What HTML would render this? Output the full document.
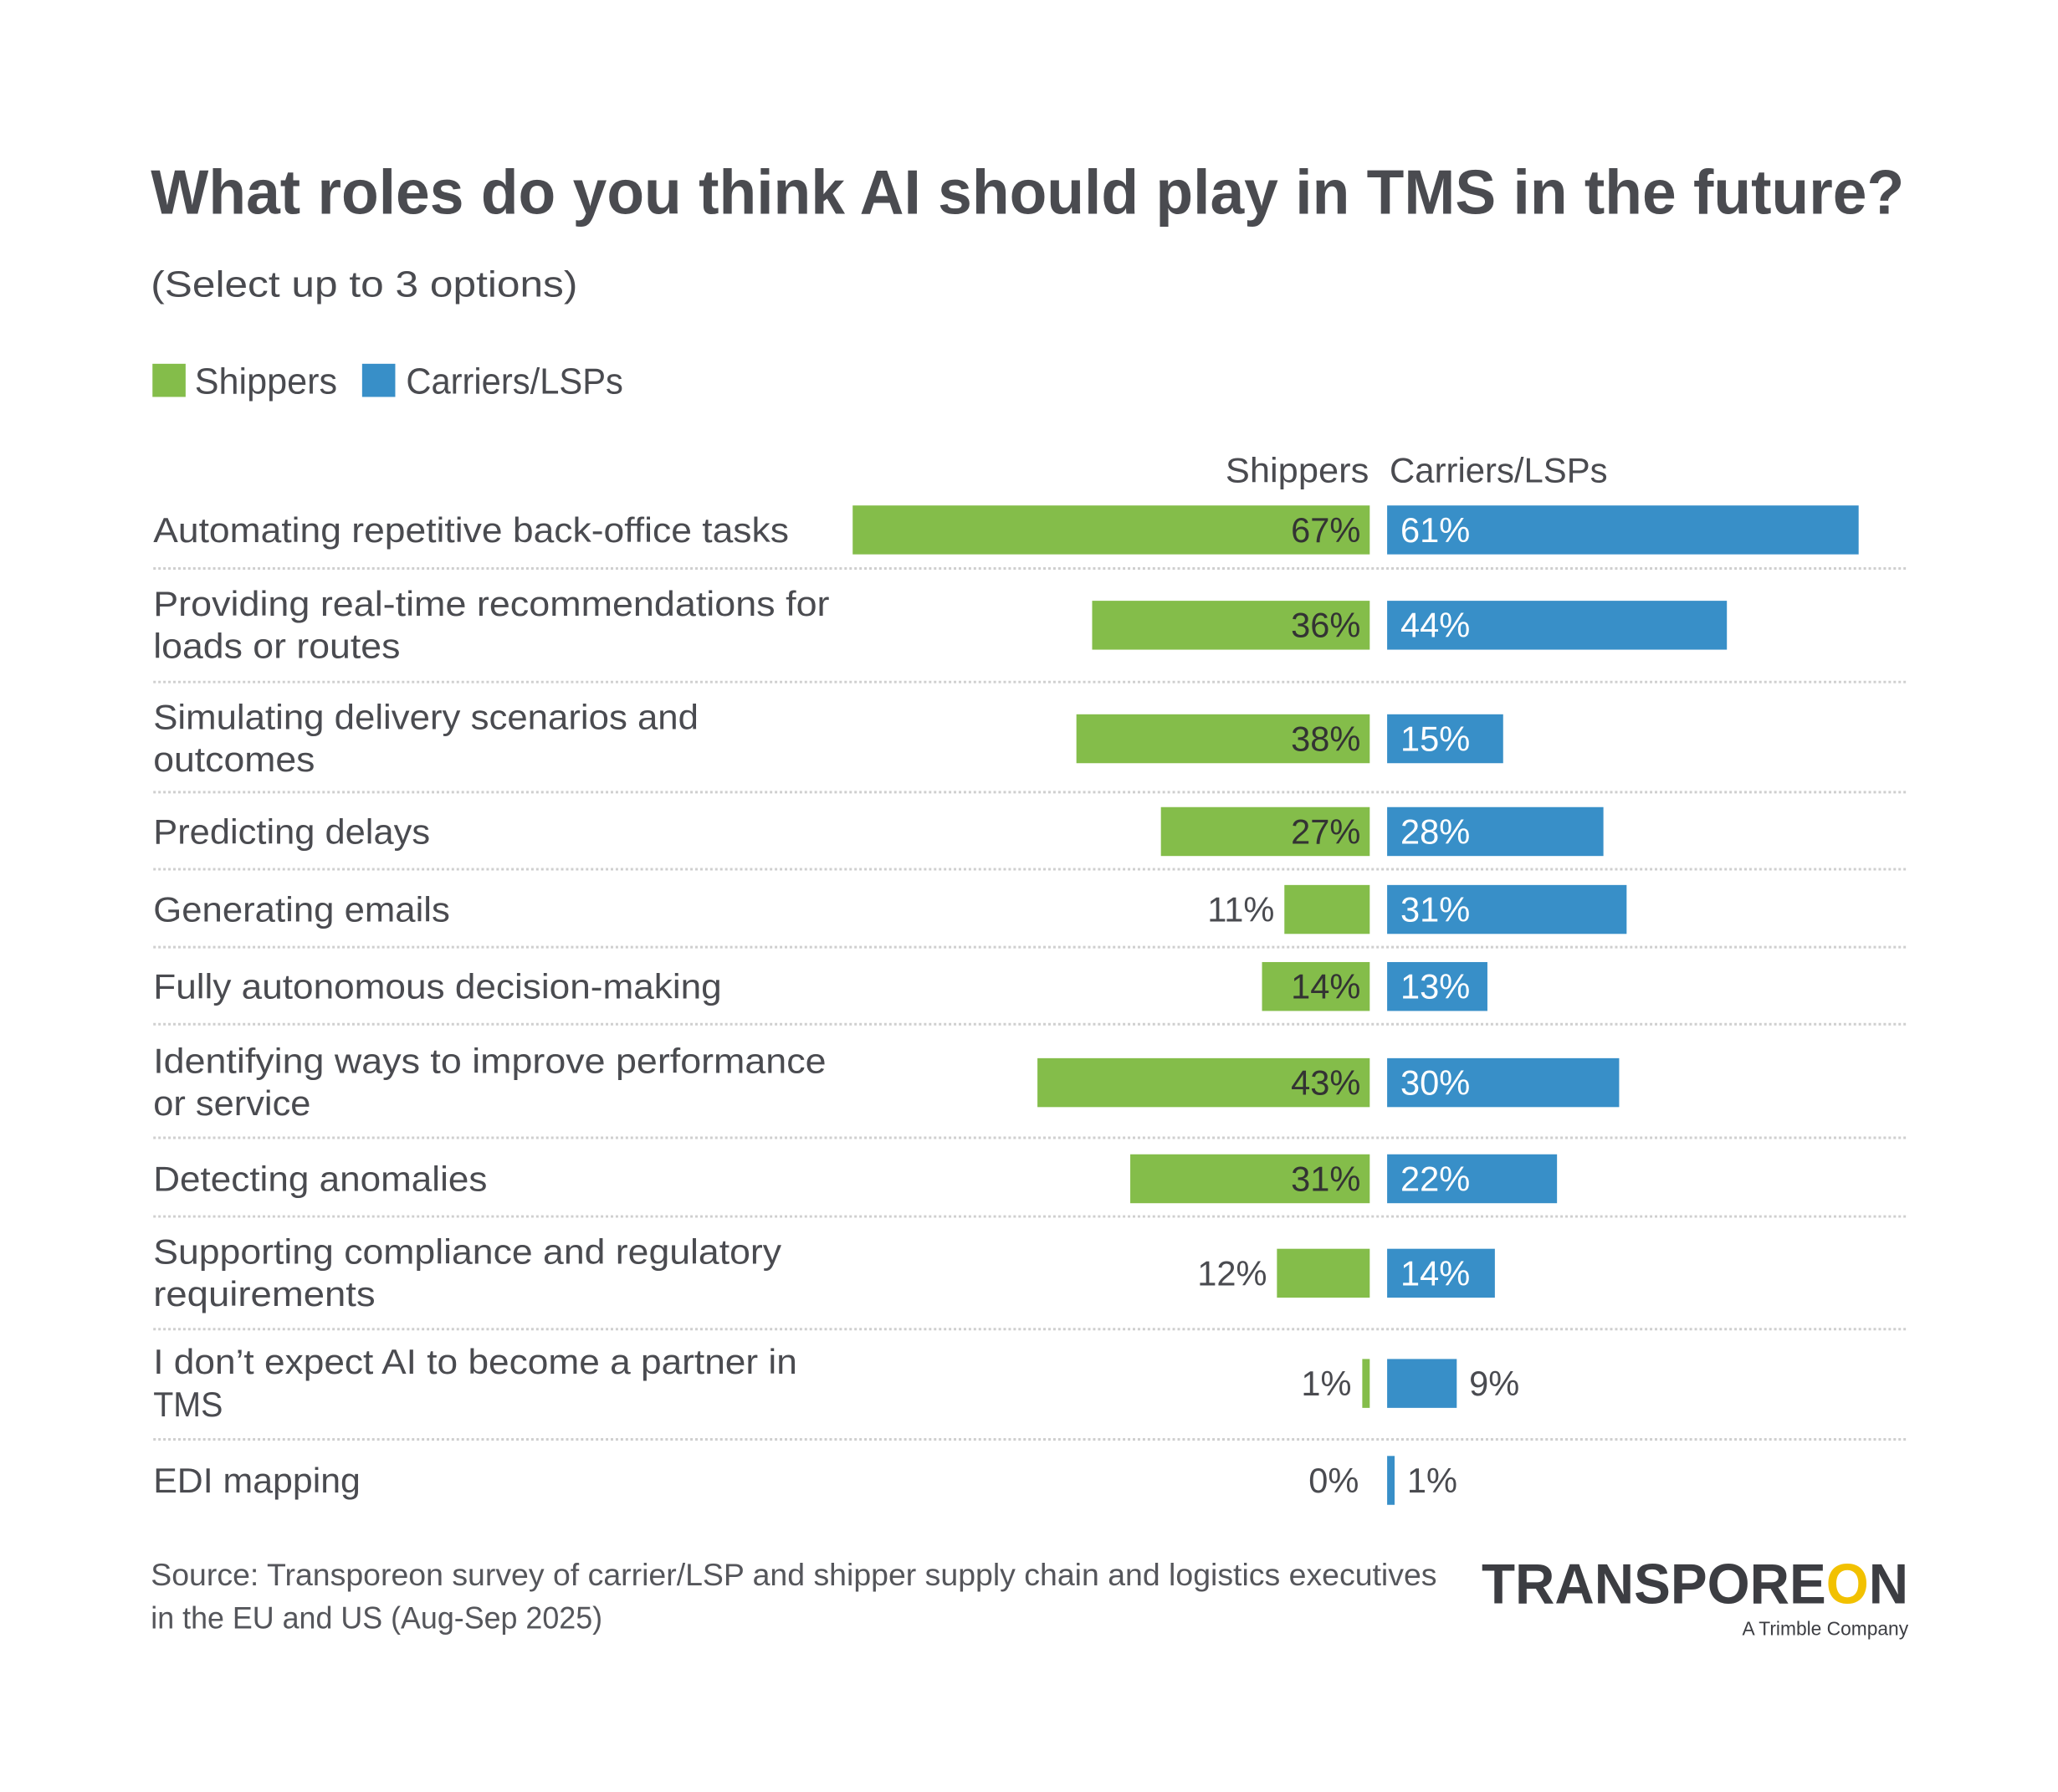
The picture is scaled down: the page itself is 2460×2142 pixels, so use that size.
<!DOCTYPE html>
<html><head><meta charset="utf-8"><style>html,body{margin:0;padding:0;background:#fff}svg{display:block}</style></head>
<body>
<svg width="2460" height="2142" viewBox="0 0 2460 2142" xmlns="http://www.w3.org/2000/svg" font-family="'Liberation Sans', sans-serif">
<rect width="2460" height="2142" fill="#fff"/>
<g transform="scale(0.9905)">
<text x="182" y="258" font-size="76" font-weight="bold" fill="#4a4b50" textLength="2116" lengthAdjust="spacingAndGlyphs">What roles do you think AI should play in TMS in the future?</text>
<text x="182" y="358" font-size="44" fill="#4a4b50" textLength="515" lengthAdjust="spacingAndGlyphs">(Select up to 3 options)</text>
<rect x="184" y="439" width="40" height="40" fill="#84bd4a"/>
<text x="235" y="475" font-size="44" fill="#4a4b50" textLength="172" lengthAdjust="spacingAndGlyphs">Shippers</text>
<rect x="437" y="439" width="40" height="40" fill="#388fc8"/>
<text x="490" y="475" font-size="44" fill="#4a4b50" textLength="262" lengthAdjust="spacingAndGlyphs">Carriers/LSPs</text>
<text x="1652" y="582" font-size="42" fill="#4a4b50" text-anchor="end" textLength="173" lengthAdjust="spacingAndGlyphs">Shippers</text>
<text x="1677" y="582" font-size="42" fill="#4a4b50" textLength="263" lengthAdjust="spacingAndGlyphs">Carriers/LSPs</text>
<g stroke="#cfcfcf" stroke-width="3" stroke-dasharray="3 3">
<line x1="185" x2="2300" y1="686" y2="686"/><line x1="185" x2="2300" y1="823" y2="823"/>
<line x1="185" x2="2300" y1="956" y2="956"/><line x1="185" x2="2300" y1="1049" y2="1049"/>
<line x1="185" x2="2300" y1="1143" y2="1143"/><line x1="185" x2="2300" y1="1236" y2="1236"/>
<line x1="185" x2="2300" y1="1373" y2="1373"/><line x1="185" x2="2300" y1="1468" y2="1468"/>
<line x1="185" x2="2300" y1="1604" y2="1604"/><line x1="185" x2="2300" y1="1737" y2="1737"/>
</g>
<g font-size="42" fill="#4a4b50">
<text x="185" y="654" textLength="767" lengthAdjust="spacingAndGlyphs">Automating repetitive back-office tasks</text>
<text x="185" y="743" textLength="816" lengthAdjust="spacingAndGlyphs">Providing real-time recommendations for</text>
<text x="185" y="794" textLength="298" lengthAdjust="spacingAndGlyphs">loads or routes</text>
<text x="185" y="880" textLength="658" lengthAdjust="spacingAndGlyphs">Simulating delivery scenarios and</text>
<text x="185" y="931" textLength="195" lengthAdjust="spacingAndGlyphs">outcomes</text>
<text x="185" y="1018" textLength="334" lengthAdjust="spacingAndGlyphs">Predicting delays</text>
<text x="185" y="1112" textLength="358" lengthAdjust="spacingAndGlyphs">Generating emails</text>
<text x="185" y="1205" textLength="686" lengthAdjust="spacingAndGlyphs">Fully autonomous decision-making</text>
<text x="185" y="1295" textLength="812" lengthAdjust="spacingAndGlyphs">Identifying ways to improve performance</text>
<text x="185" y="1346" textLength="190" lengthAdjust="spacingAndGlyphs">or service</text>
<text x="185" y="1437" textLength="403" lengthAdjust="spacingAndGlyphs">Detecting anomalies</text>
<text x="185" y="1525" textLength="758" lengthAdjust="spacingAndGlyphs">Supporting compliance and regulatory</text>
<text x="185" y="1576" textLength="268" lengthAdjust="spacingAndGlyphs">requirements</text>
<text x="185" y="1658" textLength="777" lengthAdjust="spacingAndGlyphs">I don’t expect AI to become a partner in</text>
<text x="185" y="1709" textLength="84" lengthAdjust="spacingAndGlyphs">TMS</text>
<text x="185" y="1801" textLength="250" lengthAdjust="spacingAndGlyphs">EDI mapping</text>
</g>
<g fill="#84bd4a">
<rect x="1029" y="610" width="624" height="59"/>
<rect x="1318" y="725" width="335" height="59"/>
<rect x="1299" y="862" width="354" height="59"/>
<rect x="1401" y="974" width="252" height="59"/>
<rect x="1550" y="1068" width="103" height="59"/>
<rect x="1523" y="1161" width="130" height="59"/>
<rect x="1252" y="1277" width="401" height="59"/>
<rect x="1364" y="1393" width="289" height="59"/>
<rect x="1541" y="1507" width="112" height="59"/>
<rect x="1644" y="1640" width="9" height="59"/>
</g>
<g fill="#388fc8">
<rect x="1674" y="610" width="569" height="59"/>
<rect x="1674" y="725" width="410" height="59"/>
<rect x="1674" y="862" width="140" height="59"/>
<rect x="1674" y="974" width="261" height="59"/>
<rect x="1674" y="1068" width="289" height="59"/>
<rect x="1674" y="1161" width="121" height="59"/>
<rect x="1674" y="1277" width="280" height="59"/>
<rect x="1674" y="1393" width="205" height="59"/>
<rect x="1674" y="1507" width="130" height="59"/>
<rect x="1674" y="1640" width="84" height="59"/>
<rect x="1674" y="1757" width="9" height="59"/>
</g>
<g font-size="42" fill="#333" text-anchor="end">
<text x="1642" y="654">67%</text><text x="1642" y="769">36%</text><text x="1642" y="906">38%</text>
<text x="1642" y="1018">27%</text><text x="1538" y="1112" fill="#4a4b50">11%</text><text x="1642" y="1205">14%</text>
<text x="1642" y="1321">43%</text><text x="1642" y="1437">31%</text><text x="1529" y="1551" fill="#4a4b50">12%</text>
<text x="1631" y="1684" fill="#4a4b50">1%</text><text x="1640" y="1801" fill="#4a4b50">0%</text>
</g>
<g font-size="42" fill="#fff">
<text x="1690" y="654">61%</text><text x="1690" y="769">44%</text><text x="1690" y="906">15%</text>
<text x="1690" y="1018">28%</text><text x="1690" y="1112">31%</text><text x="1690" y="1205">13%</text>
<text x="1690" y="1321">30%</text><text x="1690" y="1437">22%</text><text x="1690" y="1551">14%</text>
<text x="1773" y="1684" fill="#4a4b50">9%</text><text x="1698" y="1801" fill="#4a4b50">1%</text>
</g>
<text x="182" y="1913" font-size="37" fill="#55565b" textLength="1552" lengthAdjust="spacingAndGlyphs">Source: Transporeon survey of carrier/LSP and shipper supply chain and logistics executives</text>
<text x="182" y="1965" font-size="37" fill="#55565b" textLength="545" lengthAdjust="spacingAndGlyphs">in the EU and US (Aug-Sep 2025)</text>
<text x="1788" y="1935" font-size="68" font-weight="bold" fill="#3c3d42" textLength="515" lengthAdjust="spacingAndGlyphs">TRANSPORE<tspan fill="#f2c100">O</tspan>N</text>
<text x="2303" y="1973" font-size="23" fill="#3c3d42" text-anchor="end">A Trimble Company</text>
</g>
</svg>
</body></html>
